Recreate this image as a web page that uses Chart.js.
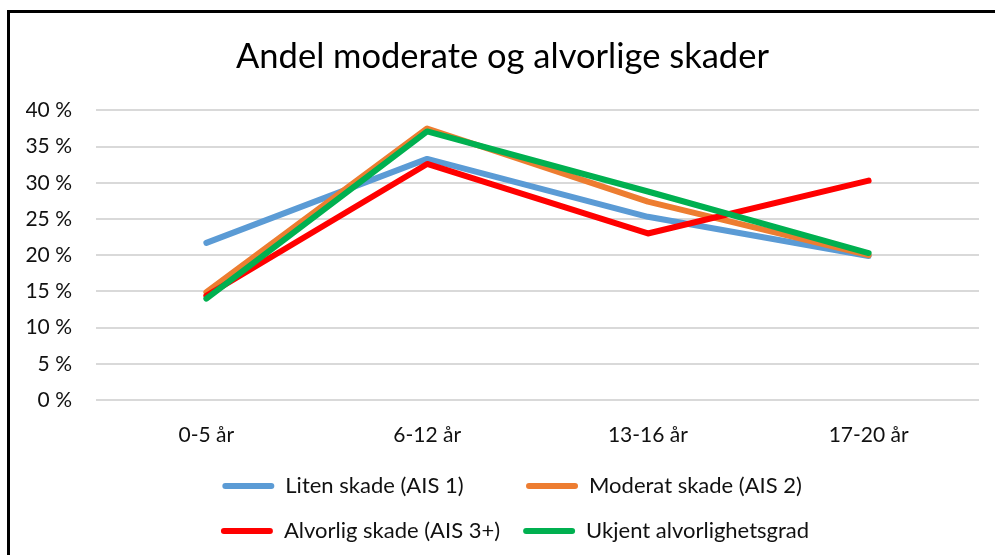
<!DOCTYPE html>
<html>
<head>
<meta charset="utf-8">
<script src="https://cdn.jsdelivr.net/npm/chart.js@4/dist/chart.umd.min.js"></script>
<style>
  html, body { margin: 0; padding: 0; background: #fff; }
  #wrap { position: relative; width: 995px; height: 555px; overflow: hidden; }
  #frame { position: absolute; left: 7px; top: 10px; width: 1000px; height: 600px;
           border-top: 3px solid #000; border-left: 3px solid #000; pointer-events: none; }
</style>
</head>
<body>
<div id="wrap">
  <canvas id="chart" width="995" height="555"></canvas>
  <div id="frame"></div>
</div>
<script>
const categories = ["0-5 år", "6-12 år", "13-16 år", "17-20 år"];
const seriesNames = ["Liten skade (AIS 1)", "Moderat skade (AIS 2)", "Alvorlig skade (AIS 3+)", "Ukjent alvorlighetsgrad"];
const liten = [0.217, 0.333, 0.253, 0.199];
const moderat = [0.149, 0.375, 0.274, 0.200];
const alvorlig = [0.144, 0.326, 0.230, 0.303];
const ukjent = [0.140, 0.371, 0.288, 0.203];
const colors = ["#5B9BD5", "#ED7D31", "#FF0000", "#00B050"];
const yTicks = [0, 0.05, 0.1, 0.15, 0.2, 0.25, 0.3, 0.35, 0.4];

// trailing spaces so the legend wraps two per row and the columns line up
const legendPad = [7, 9, 0, 8];

const FONT = "Lato, 'Open Sans', sans-serif";

function line(i, values, order) {
  return {
    label: seriesNames[i],
    data: values,
    borderColor: colors[i],
    backgroundColor: colors[i],
    borderWidth: 6,
    borderCapStyle: "round",
    borderJoinStyle: "round",
    pointRadius: 0,
    tension: 0,
    order: order, // green on top, blue at bottom
  };
}

new Chart(document.getElementById("chart"), {
  type: "line",
  data: {
    labels: categories,
    datasets: [
      line(0, liten, 3),
      line(1, moderat, 2),
      line(2, alvorlig, 1),
      line(3, ukjent, 0),
    ],
  },
  options: {
    responsive: false,
    animation: false,
    layout: { padding: { left: 26, right: 16, top: 36, bottom: 3 } },
    plugins: {
      title: {
        display: true,
        text: "Andel moderate og alvorlige skader",
        color: "#000",
        font: { family: FONT, size: 34.5, weight: "normal" },
        padding: { top: 0, bottom: 33 },
      },
      legend: {
        position: "bottom",
        fullSize: false,
        labels: {
          color: "#111",
          font: { family: FONT, size: 22 },
          boxWidth: 52,
          boxHeight: 6,
          padding: 23,
          useBorderRadius: true,
          borderRadius: 3,
          sort: (a, b) => a.datasetIndex - b.datasetIndex,
          generateLabels: (chart) => {
            const items = Chart.defaults.plugins.legend.labels.generateLabels(chart);
            items.forEach((it) => {
              it.lineWidth = 0;
              it.fillStyle = colors[it.datasetIndex];
              it.text = it.text + " ".repeat(legendPad[it.datasetIndex]);
            });
            return items;
          },
        },
      },
      tooltip: { enabled: false },
    },
    scales: {
      x: {
        offset: true,
        grid: { display: false, drawTicks: false },
        border: { display: false },
        ticks: { color: "#111", font: { family: FONT, size: 21 }, padding: 23 },
        afterFit: (axis) => { axis.height = 52; },
      },
      y: {
        min: 0,
        max: 0.4,
        afterBuildTicks: (axis) => { axis.ticks = yTicks.map((v) => ({ value: v })); },
        afterFit: (axis) => { axis.width = 70; },
        grid: { color: "#d9d9d9", lineWidth: 2, drawTicks: false },
        border: { display: false },
        ticks: {
          color: "#111",
          font: { family: FONT, size: 21 },
          padding: 24,
          callback: (v) => Math.round(v * 100) + " %",
        },
      },
    },
  },
});
</script>
</body>
</html>
